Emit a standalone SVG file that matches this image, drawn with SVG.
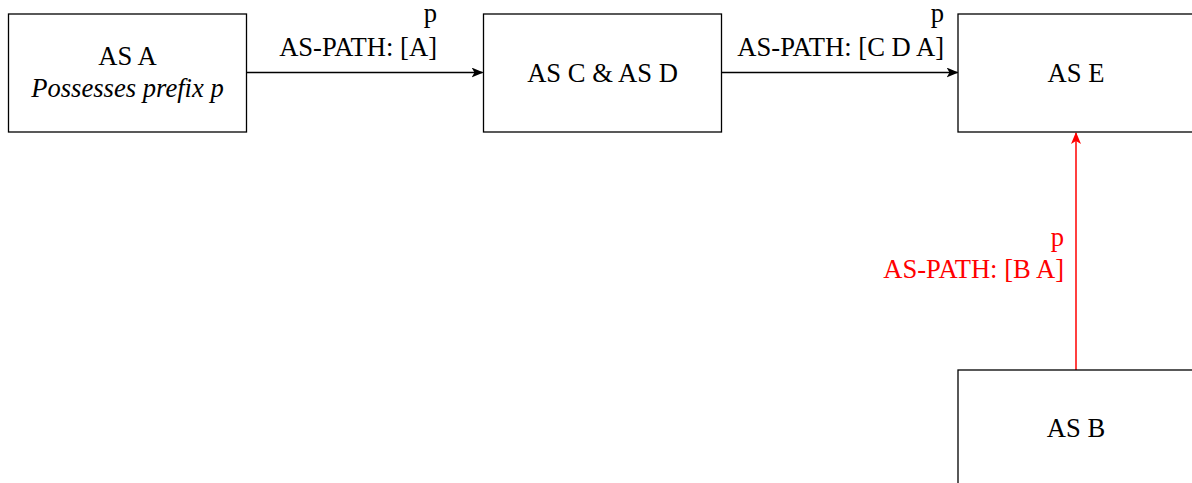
<svg xmlns="http://www.w3.org/2000/svg" width="1192" height="483" viewBox="0 0 1192 483">
  <style>
    .box { fill: #ffffff; stroke: #000000; stroke-width: 1.3; }
    .lbl { font-family: 'Liberation Serif', Tinos, 'Times New Roman', Times, 'DejaVu Serif', serif; font-size: 26.6px; fill: #000000; }
    .mid { text-anchor: middle; }
    .end { text-anchor: end; }
    .red { fill: #ff0000; }
    .edge { fill: none; stroke: #000000; stroke-width: 1.3; }
    .edge-red { fill: none; stroke: #ff0000; stroke-width: 1.5; }
  </style>
  <defs>
    <marker id="arrow" viewBox="0 0 12 10" refX="11" refY="5" markerWidth="12" markerHeight="10" markerUnits="userSpaceOnUse" orient="auto">
      <path d="M0,0 L12,5 L0,10 L3,5 Z" fill="#000000"/>
    </marker>
    <marker id="arrow-red" viewBox="0 0 12 10" refX="11" refY="5" markerWidth="12" markerHeight="10" markerUnits="userSpaceOnUse" orient="auto">
      <path d="M0,0 L12,5 L0,10 L3,5 Z" fill="#ff0000"/>
    </marker>
  </defs>
  <rect width="1192" height="483" fill="#ffffff"/>

  <!-- connectors -->
  <g id="connectors">
    <g id="edge-a-cd">
      <path class="edge" d="M246.5,72.5 L482.5,72.5" marker-end="url(#arrow)"/>
      <text class="lbl end" x="437" y="22">p</text>
      <text class="lbl end" x="437" y="56">AS-PATH: [A]</text>
    </g>
    <g id="edge-cd-e">
      <path class="edge" d="M721.5,72.5 L957.5,72.5" marker-end="url(#arrow)"/>
      <text class="lbl end" x="944" y="22">p</text>
      <text class="lbl end" x="944" y="56">AS-PATH: [C D A]</text>
    </g>
    <g id="edge-b-e">
      <path class="edge-red" d="M1076,370 L1076,133" marker-end="url(#arrow-red)"/>
      <text class="lbl end red" x="1064" y="246">p</text>
      <text class="lbl end red" x="1064" y="278">AS-PATH: [B A]</text>
    </g>
  </g>

  <!-- nodes -->
  <g id="node-as-a">
    <rect class="box" x="8.5" y="14" width="238" height="118"/>
    <text class="lbl mid" x="127.5" y="65">AS A</text>
    <text class="lbl mid" x="127.5" y="97" font-style="italic">Possesses prefix p</text>
  </g>
  <g id="node-as-cd">
    <rect class="box" x="483.5" y="14" width="238" height="118"/>
    <text class="lbl mid" x="602.5" y="81.5">AS C &amp; AS D</text>
  </g>
  <g id="node-as-e">
    <rect class="box" x="958" y="14" width="238" height="118"/>
    <text class="lbl mid" x="1076" y="81.5">AS E</text>
  </g>
  <g id="node-as-b">
    <rect class="box" x="958" y="370" width="238" height="118"/>
    <text class="lbl mid" x="1076" y="437">AS B</text>
  </g>
</svg>
